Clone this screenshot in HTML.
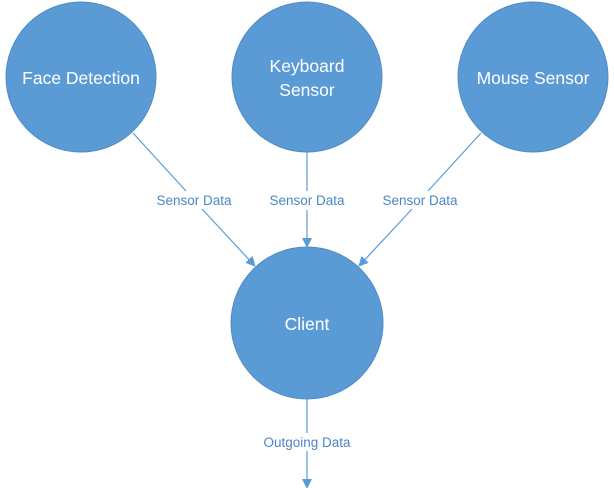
<!DOCTYPE html><html><head><style>body{margin:0;background:#fff}svg{display:block}</style></head><body>
<svg width="614" height="488" viewBox="0 0 614 488" xmlns="http://www.w3.org/2000/svg" font-family="Liberation Sans, sans-serif">
<defs><marker id="a" markerWidth="10" markerHeight="10" refX="9" refY="5" orient="auto" markerUnits="userSpaceOnUse"><path d="M0,0 L10,5 L0,10 z" fill="#5b9bd5"/></marker></defs>
<g fill="#5b9bd5" stroke="#4f8cc4" stroke-width="1">
<circle cx="81" cy="77" r="75"/><circle cx="307" cy="77" r="75"/><circle cx="533" cy="77" r="75"/><circle cx="307" cy="323" r="76"/></g>
<g stroke="#5b9bd5" stroke-width="1.2" fill="none">
<path d="M133,133 L186,191"/><path d="M202,209 L255,266" marker-end="url(#a)"/>
<path d="M307,152 L307,191"/><path d="M307,210 L307,247" marker-end="url(#a)"/>
<path d="M481,133 L428,191"/><path d="M412,209 L359,266" marker-end="url(#a)"/>
<path d="M307,399 L307,433"/><path d="M307,451 L307,488" marker-end="url(#a)"/>
</g>
<g fill="#fff" font-size="17.5" text-anchor="middle">
<text x="81" y="84">Face Detection</text>
<text x="307" y="72">Keyboard</text><text x="307" y="96">Sensor</text>
<text x="533" y="84">Mouse Sensor</text>
<text x="307" y="330">Client</text></g>
<g fill="#4a86c8" font-size="13.5" text-anchor="middle">
<text x="194" y="205">Sensor Data</text><text x="307" y="205">Sensor Data</text><text x="420" y="205">Sensor Data</text><text x="307" y="447">Outgoing Data</text></g>
</svg></body></html>
